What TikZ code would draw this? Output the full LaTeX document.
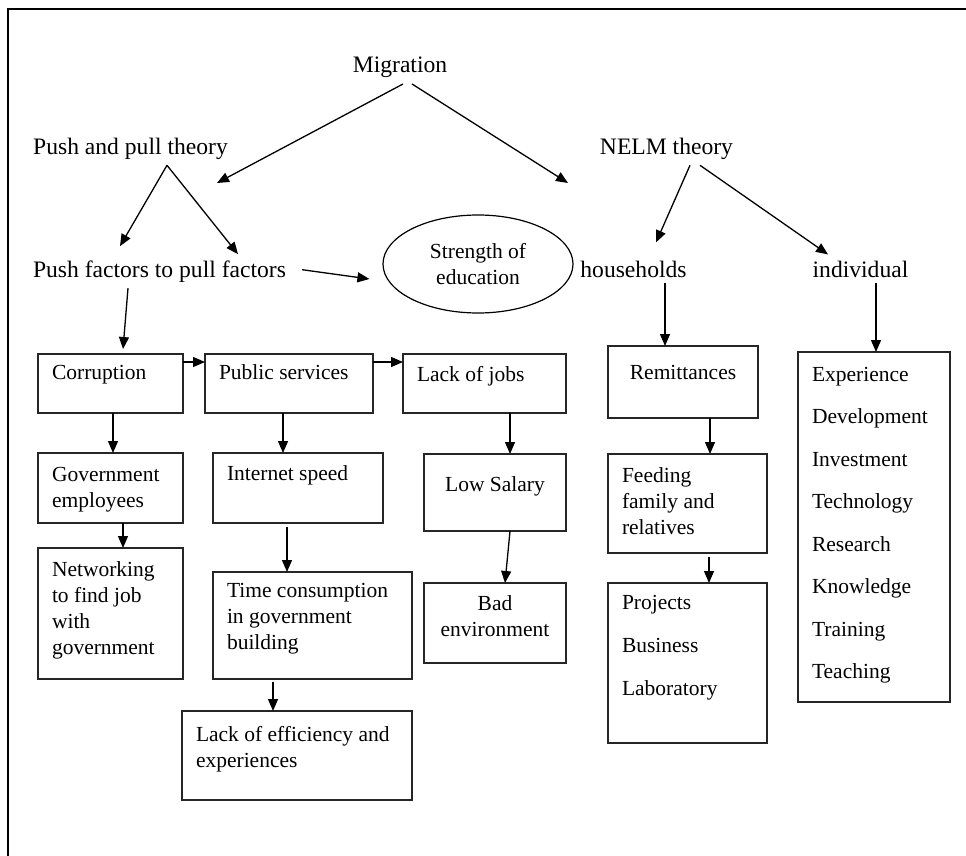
\documentclass[tikz,border=0pt]{standalone}
\usepackage{fontspec}
\setmainfont{Liberation Serif}
\usetikzlibrary{arrows.meta,shapes.geometric}
% text set at the top of a box of fixed size
\newcommand{\boxtext}[4]{\parbox[t][#2][t]{#1}{\vspace*{#3}#4}}

\begin{document}
\begin{tikzpicture}[x=1pt,y=-1pt,
        lbl/.style={font=\fontsize{23.6}{28}\selectfont, inner sep=6pt, anchor=base},
        box/.style={draw, line width=1.4pt, draw=black!85, anchor=north west, outer sep=0pt,
                    inner xsep=14pt, inner ysep=10pt, font=\fontsize{21.5}{26}\selectfont},
        ell/.style={draw, ellipse, line width=1.2pt, minimum width=190pt, minimum height=98pt,
                    inner sep=0pt, align=center, font=\fontsize{21.5}{26}\selectfont},
        arr/.style={line width=1.3pt, -{Triangle[length=12pt,width=10pt]}}]
        \useasboundingbox (0,0) rectangle (966,856);
        \clip (0,0) rectangle (966,856);
        \draw[line width=1.6pt] (8,880) -- (8,9) -- (990,9);   % frame

        % theories
        \node[lbl] (mig) at (400,72.7) {Migration};
        \node[lbl] (pp) at (130.5,154) {Push and pull theory};
        \node[lbl] (nelm) at (666.5,154) {NELM theory};
        \node[lbl] (push) at (159.5,277) {Push factors to pull factors};
        \node[lbl] (hh) at (633.5,277) {households};
        \node[lbl] (ind) at (860.5,277) {individual};
        \node[ell] (edu) at (478,264) {Strength of\\education};
        \coordinate (ptip) at (217,183);
        \coordinate (ntip) at (568,183);

        \draw[arr] ([xshift=3pt]mig.south) -- (ptip);
        \draw[arr] ([xshift=12pt]mig.south) -- (ntip);
        \draw[arr] ([xshift=36.5pt]pp.south) -- ([xshift=-39.5pt,yshift=8pt]push.north);
        \draw[arr] ([xshift=36.5pt]pp.south) -- ([xshift=78.5pt]push.north);
        \draw[arr] ([xshift=10pt,yshift=1.5pt]push.east) -- ([xshift=-13pt,yshift=-15pt]edu.west);
        \draw[arr] ([xshift=23.5pt]nelm.south) -- ([xshift=22.5pt,yshift=12pt]hh.north);
        \draw[arr] ([xshift=33.5pt]nelm.south) -- ([xshift=-32.5pt]ind.north);

        % push factors
        \node[box] (corr) at (38,354) {\boxtext{117pt}{39pt}{1pt}{Corruption}};
        \node[box] (pub) at (205,354) {\boxtext{140pt}{39pt}{1pt}{Public services}};
        \node[box] (lack) at (403,354) {\boxtext{135pt}{39pt}{2pt}{Lack of jobs}};
        \node[box] (gov) at (38,453) {\boxtext{117pt}{50pt}{4pt}{Government\\employees}};
        \node[box] (inet) at (213,453) {\boxtext{142pt}{50pt}{3pt}{Internet speed}};
        \node[box] (low) at (424,454) {\boxtext{114pt}{57pt}{13pt}{\centering Low Salary}};
        \node[box] (net) at (38,548) {\boxtext{117pt}{111pt}{4pt}{Networking\\to find job\\with\\government}};
        \node[box] (time) at (213,572) {\boxtext{171pt}{87pt}{1pt}{Time consumption\\in government\\building}};
        \node[box] (bad) at (424,583) {\boxtext{114pt}{60pt}{3pt}{\centering Bad\\environment}};
        \node[box] (eff) at (182,711) {\boxtext{202pt}{69pt}{5pt}{Lack of efficiency and\\experiences}};

        % households and individual
        \node[box] (rem) at (608,346) {\boxtext{122pt}{52pt}{9pt}{\centering Remittances}};
        \node[box] (feed) at (608,454) {\boxtext{131pt}{79pt}{4pt}{Feeding\\family and\\relatives}};
        \node[box] (proj) at (608,583) {\boxtext{131pt}{140pt}{2pt}{\fontsize{21.5}{43}\selectfont
                Projects\\Business\\Laboratory}};
        \node[box] (lst) at (798,352) {\boxtext{124pt}{330pt}{5pt}{\fontsize{21.5}{42.5}\selectfont
                Experience\\Development\\Investment\\Technology\\Research\\Knowledge\\Training\\Teaching}};

        \draw[arr] ([xshift=-31.5pt]push.south) -- ([xshift=12.5pt,yshift=5pt]corr.north);
        \draw[arr] ([xshift=31.5pt]hh.south) -- ([xshift=-18pt]rem.north);
        \draw[arr] ([xshift=15.5pt]ind.south) -- ([xshift=2pt]lst.north);

        \draw[arr] ([yshift=-8pt]corr.north east) -- ([yshift=-8pt]pub.north west);
        \draw[arr] ([yshift=-8pt]pub.north east) -- ([yshift=-8pt]lack.north west);
        \draw[arr] ([xshift=2.5pt]corr.south) -- ([xshift=2.5pt]gov.north);
        \draw[arr] ([xshift=12.5pt]gov.south) -- ([xshift=12.5pt]net.north);
        \draw[arr] ([xshift=-6pt]pub.south) -- ([xshift=-15pt]inet.north);
        \draw[arr, shorten <=4pt] ([xshift=-11pt]inet.south) -- ([xshift=-25.5pt]time.north);
        \draw[arr, shorten <=3pt] ([xshift=-39.5pt]time.south) -- ([xshift=-24pt]eff.north);
        \draw[arr] ([xshift=25.5pt]lack.south) -- ([xshift=15pt]low.north);
        \draw[arr] ([xshift=15pt]low.south) -- ([xshift=10pt]bad.north);
        \draw[arr] ([xshift=27pt]rem.south) -- ([xshift=22.5pt]feed.north);
        \draw[arr, shorten <=4pt] ([xshift=21.5pt]feed.south) -- ([xshift=21.5pt]proj.north);
\end{tikzpicture}
\end{document}
